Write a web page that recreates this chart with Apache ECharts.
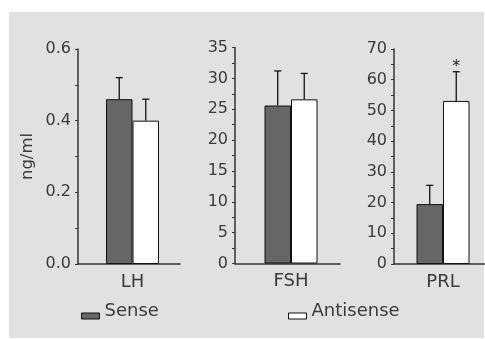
<!DOCTYPE html>
<html>
<head>
<meta charset="utf-8">
<script src="https://cdn.jsdelivr.net/npm/echarts@6/dist/echarts.min.js"></script>
<style>
html,body{margin:0;padding:0;background:#fff;}
#c{width:485px;height:339px;}
</style>
</head>
<body>
<div id="c"></div>
<script>
// ---- data ----
const hormones = ['LH', 'FSH', 'PRL'];
const senseMean = [0.46, 25.6, 19.5];
const senseErr = [0.06, 5.6, 6.1];
const antisenseMean = [0.40, 26.6, 53.1];
const antisenseErr = [0.06, 4.2, 9.5];
const significance = ['', '', '*'];
const yMax = [0.6, 35, 70];
const yStep = [0.2, 5, 10];
const yDecimals = [1, 0, 0];
const unitLabel = 'ng/ml';

// ---- layout / style ----
const grids = [
  {left: 78, top: 49, width: 102, height: 215},
  {left: 235, top: 47.5, width: 105, height: 216},
  {left: 394, top: 49, width: 103, height: 215}
];
const BAR_W = 26.5;
const SHIFT = 3.5;
const textColor = '#3a3a3a';
const axisColor = '#333';
const font = 'DejaVu Sans, Verdana, sans-serif';
const legendIcon = 'path://M0,0M0,10L18,10L18,16L0,16Z';

const chart = echarts.init(document.getElementById('c'));

const xAxis = [], yAxis = [], series = [];
hormones.forEach((h, i) => {
  xAxis.push({
    type: 'category', gridIndex: i, data: [h],
    axisLine: {lineStyle: {color: axisColor, width: 1.5}},
    axisTick: {show: false},
    axisLabel: {color: textColor, fontSize: 18, fontFamily: font, margin: 9, padding: [0, 0, 0, SHIFT * 2]}
  });
  yAxis.push({
    type: 'value', gridIndex: i, min: 0, max: yMax[i], interval: yStep[i],
    name: i === 0 ? unitLabel : '',
    nameLocation: 'middle', nameGap: 42,
    nameTextStyle: {color: textColor, fontSize: 16.5, fontFamily: font},
    axisLine: {show: true, lineStyle: {color: axisColor, width: 1.5}},
    axisTick: {show: true, length: 3, lineStyle: {color: axisColor}},
    minorTick: {show: true, splitNumber: 2, length: 3, lineStyle: {color: axisColor}},
    splitLine: {show: false},
    axisLabel: {color: textColor, fontSize: 16, fontFamily: font, margin: 7,
      formatter: v => v.toFixed(yDecimals[i])}
  });
  series.push({
    type: 'bar', name: '_pad', xAxisIndex: i, yAxisIndex: i, data: [],
    barWidth: SHIFT * 2, barGap: '0%', silent: true
  });
  series.push({
    type: 'bar', name: 'Sense', xAxisIndex: i, yAxisIndex: i, data: [senseMean[i]],
    barWidth: BAR_W, barGap: '0%',
    itemStyle: {color: '#666666', borderColor: '#111', borderWidth: 1}
  });
  series.push({
    type: 'bar', name: 'Antisense', xAxisIndex: i, yAxisIndex: i, data: [antisenseMean[i]],
    barWidth: BAR_W, barGap: '0%',
    itemStyle: {color: '#ffffff', borderColor: '#111', borderWidth: 1}
  });
  series.push({
    type: 'custom', name: 'err' + i, xAxisIndex: i, yAxisIndex: i, z: 5,
    data: [
      [0, senseMean[i], senseMean[i] + senseErr[i], -1],
      [0, antisenseMean[i], antisenseMean[i] + antisenseErr[i], 1]
    ],
    renderItem: (params, api) => {
      const base = api.coord([0, api.value(1)]);
      const top = api.coord([0, api.value(2)]);
      const side = api.value(3);
      const x = base[0] + SHIFT + side * BAR_W / 2;
      const style = {stroke: '#111', lineWidth: 1.3};
      const children = [
        {type: 'line', shape: {x1: x, y1: base[1], x2: x, y2: top[1]}, style},
        {type: 'line', shape: {x1: x - 3.5, y1: top[1], x2: x + 3.5, y2: top[1]}, style}
      ];
      const sig = significance[i];
      if (side === 1 && sig) {
        children.push({type: 'text', style: {text: sig, x: x, y: top[1] + 3, align: 'center',
          verticalAlign: 'bottom', fill: '#222', font: '16px ' + font}});
      }
      return {type: 'group', children};
    }
  });
});

const legendCommon = {
  padding: 0, icon: legendIcon, itemWidth: 18, itemHeight: 16, itemGap: 8,
  textStyle: {color: textColor, fontSize: 18, fontFamily: font},
  itemStyle: {borderColor: '#111', borderWidth: 1}
};

chart.setOption({
  animation: false,
  backgroundColor: '#ffffff',
  graphic: [{type: 'rect', z: -10, silent: true, shape: {x: 9, y: 12, width: 475, height: 326},
    style: {fill: '#e1e1e1'}}],
  grid: grids.map(g => Object.assign({containLabel: false}, g)),
  legend: [
    Object.assign({data: ['Sense'], left: 81, top: 302}, legendCommon),
    Object.assign({data: ['Antisense'], left: 288, top: 302}, legendCommon)
  ],
  xAxis, yAxis, series
});
</script>
</body>
</html>
